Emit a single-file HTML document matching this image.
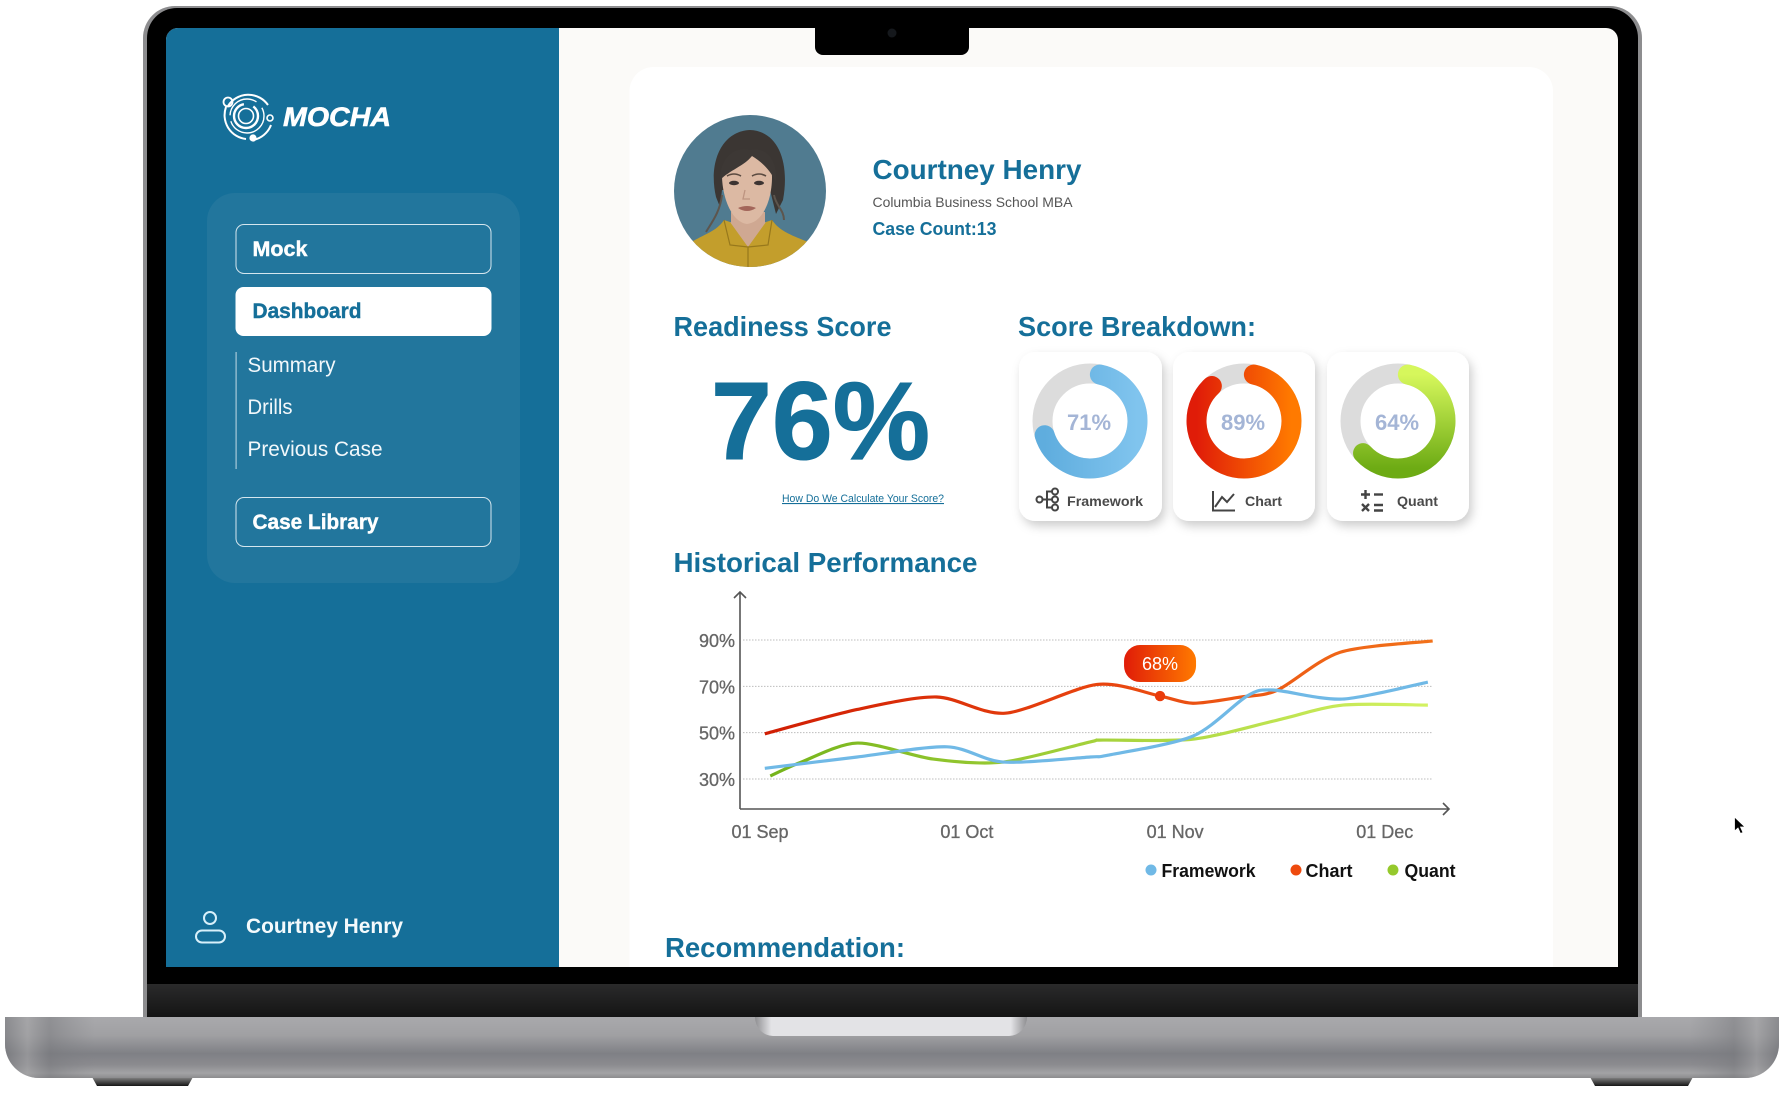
<!DOCTYPE html>
<html lang="en">
<head>
<meta charset="utf-8">
<title>Mocha Dashboard</title>
<style>
html,body{margin:0;padding:0;background:#fff;width:1785px;height:1099px;overflow:hidden}
svg{display:block;font-family:"Liberation Sans",sans-serif}
</style>
</head>
<body>
<svg id="stage" xmlns="http://www.w3.org/2000/svg" width="1785" height="1099" viewBox="0 0 1785 1099">
<defs>
  <linearGradient id="baseV" x1="0" y1="0" x2="0" y2="1">
    <stop offset="0" stop-color="#a9a9ac"/><stop offset=".3" stop-color="#a0a0a3"/><stop offset=".6" stop-color="#7f8085"/><stop offset=".78" stop-color="#8b8b8f"/><stop offset=".92" stop-color="#a3a3a5"/><stop offset="1" stop-color="#8c8c8e"/>
  </linearGradient>
  <linearGradient id="baseEndL" x1="0" y1="0" x2="1" y2="0">
    <stop offset="0" stop-color="#77787c" stop-opacity=".6"/><stop offset=".25" stop-color="#a3a3a5" stop-opacity=".6"/><stop offset=".5" stop-color="#77787c" stop-opacity=".5"/><stop offset="1" stop-color="#808185" stop-opacity="0"/>
  </linearGradient>
  <linearGradient id="baseEndR" x1="1" y1="0" x2="0" y2="0">
    <stop offset="0" stop-color="#77787c" stop-opacity=".6"/><stop offset=".25" stop-color="#a3a3a5" stop-opacity=".6"/><stop offset=".5" stop-color="#77787c" stop-opacity=".5"/><stop offset="1" stop-color="#808185" stop-opacity="0"/>
  </linearGradient>
  <linearGradient id="chin" x1="0" y1="0" x2="0" y2="1">
    <stop offset="0" stop-color="#2a2a2b"/><stop offset="1" stop-color="#141414"/>
  </linearGradient>
  <linearGradient id="foot" x1="0" y1="0" x2="0" y2="1">
    <stop offset="0" stop-color="#8a8a8a"/><stop offset=".45" stop-color="#555"/><stop offset="1" stop-color="#161616"/>
  </linearGradient>
  <linearGradient id="trackpadGrad" x1="0" y1="0" x2="1" y2="0">
    <stop offset="0" stop-color="#8f8f92"/><stop offset=".06" stop-color="#e3e3e6"/><stop offset=".94" stop-color="#e3e3e6"/><stop offset="1" stop-color="#8f8f92"/>
  </linearGradient>
  <linearGradient id="gradFramework" x1="0" y1="0" x2="1" y2="0">
    <stop offset="0" stop-color="#5fadde"/><stop offset="1" stop-color="#80c4ee"/>
  </linearGradient>
  <linearGradient id="gradChart" x1="0" y1="0" x2="1" y2="0">
    <stop offset="0" stop-color="#e01c08"/><stop offset="1" stop-color="#ff7a00"/>
  </linearGradient>
  <linearGradient id="gradQuant" x1="0" y1="0" x2="0" y2="1">
    <stop offset="0" stop-color="#d6f75c"/><stop offset="1" stop-color="#6dab14"/>
  </linearGradient>
  <linearGradient id="lineChart" gradientUnits="userSpaceOnUse" x1="765" y1="0" x2="1433" y2="0">
    <stop offset="0" stop-color="#d01e04"/><stop offset=".5" stop-color="#e8440f"/><stop offset="1" stop-color="#f2721a"/>
  </linearGradient>
  <linearGradient id="lineQuant" gradientUnits="userSpaceOnUse" x1="765" y1="0" x2="1433" y2="0">
    <stop offset="0" stop-color="#74b31a"/><stop offset=".5" stop-color="#a5d23c"/><stop offset="1" stop-color="#d4f262"/>
  </linearGradient>
  <filter id="cardShadow" x="-20%" y="-20%" width="140%" height="140%">
    <feDropShadow dx="3" dy="5" stdDeviation="5" flood-color="#000" flood-opacity=".2"/>
  </filter>
  <clipPath id="screenClip"><path d="M166 967V40a12 12 0 0 1 12-12H1606a12 12 0 0 1 12 12V967z"/></clipPath>
  <clipPath id="avatarClip"><circle cx="750" cy="191" r="76"/></clipPath>
</defs>

<!-- Laptop hardware -->
<g>
  <path d="M92 1077H193L188 1086H97z" fill="url(#foot)"/>
  <path d="M1590 1077H1693L1688 1086H1595z" fill="url(#foot)"/>
  <path d="M143 1018V38a32 32 0 0 1 32-32H1610a32 32 0 0 1 32 32V1018z" fill="#8d8d8f"/>
  <path d="M147 1018V38a30 30 0 0 1 30-30H1608a30 30 0 0 1 30 30V1018z" fill="#000"/>
  <rect x="147" y="984" width="1491" height="33" fill="url(#chin)"/>
  <path d="M5 1017H1779V1044a34 34 0 0 1-34 34H39a34 34 0 0 1-34-34z" fill="url(#baseV)"/>
  <path d="M5 1017H95V1078H39a34 34 0 0 1-34-34z" fill="url(#baseEndL)"/>
  <path d="M1689 1017H1779V1044a34 34 0 0 1-34 34H1689z" fill="url(#baseEndR)"/>
  <path d="M755 1017H1027a18 19 0 0 1-18 19H773a18 19 0 0 1-18-19z" fill="url(#trackpadGrad)"/>
</g>

<!-- Screen -->
<g clip-path="url(#screenClip)">
  <rect x="166" y="28" width="1452" height="939" fill="#fbfaf8"/>
  <rect x="166" y="28" width="393" height="939" fill="#156f99"/>
  <rect x="629.5" y="67" width="923.5" height="960" rx="24" fill="#fff"/>

  <!-- Logo -->
  <g fill="none" stroke="#fff">
    <path stroke-width="2" d="M228 106A24 24 0 0 1 268 105M271 125A24 24 0 0 1 253 140M246 139A24 24 0 0 1 226 107"/>
    <circle cx="247" cy="116" r="17" stroke-width="1.4" stroke-dasharray="48 6 36 8"/>
    <circle cx="246" cy="116" r="12" stroke-width="2.4" stroke-dasharray="54 10"/>
    <circle cx="246" cy="116" r="7.5" stroke-width="1.6"/>
    <circle cx="228" cy="102" r="4.5" stroke-width="1.8"/>
    <circle cx="270" cy="118" r="3" stroke-width="1.6"/>
    <circle cx="253" cy="138" r="3.6" fill="#fff" stroke="none"/>
  </g>
  <text x="283" y="126" font-size="27" font-weight="700" font-style="italic" fill="#fff" stroke="#fff" stroke-width=".6" textLength="108" lengthAdjust="spacingAndGlyphs">MOCHA</text>

  <!-- Sidebar nav -->
  <rect x="207" y="193" width="313" height="390" rx="28" fill="#22769d"/>
  <rect x="236" y="224.5" width="255" height="49" rx="8" fill="none" stroke="#d5e6ee" stroke-width="1"/>
  <text x="252.5" y="256" font-size="21" font-weight="700" fill="#fff" stroke="#fff" stroke-width=".4" textLength="55" lengthAdjust="spacingAndGlyphs">Mock</text>
  <rect x="235.5" y="287" width="256" height="49" rx="8" fill="#fff"/>
  <text x="252.5" y="318" font-size="21" font-weight="700" fill="#156f99" stroke="#156f99" stroke-width=".4" textLength="109" lengthAdjust="spacingAndGlyphs">Dashboard</text>
  <rect x="235.5" y="352" width="1.2" height="117" fill="#a8c9d9"/>
  <text x="247.5" y="372" font-size="21" fill="#f2f8fb" textLength="88" lengthAdjust="spacingAndGlyphs">Summary</text>
  <text x="247.5" y="414" font-size="21" fill="#f2f8fb" textLength="45" lengthAdjust="spacingAndGlyphs">Drills</text>
  <text x="247.5" y="456" font-size="21" fill="#f2f8fb" textLength="135" lengthAdjust="spacingAndGlyphs">Previous Case</text>
  <rect x="236" y="497.5" width="255" height="49" rx="8" fill="none" stroke="#d5e6ee" stroke-width="1"/>
  <text x="252.5" y="529" font-size="21" font-weight="700" fill="#fff" stroke="#fff" stroke-width=".4" textLength="126" lengthAdjust="spacingAndGlyphs">Case Library</text>

  <!-- User footer -->
  <g fill="none" stroke="#d8f0fa" stroke-width="2">
    <circle cx="210" cy="918" r="6"/>
    <rect x="196" y="930.5" width="29" height="12" rx="6"/>
  </g>
  <text x="246" y="933" font-size="21" font-weight="700" fill="#f4fafc" textLength="157" lengthAdjust="spacingAndGlyphs">Courtney Henry</text>

  <!-- Avatar -->
  <g clip-path="url(#avatarClip)">
    <rect x="670" y="110" width="160" height="160" fill="#507b90"/>
    <path d="M716 197C708 162 722 131 750 130C778 131 790 162 783 200L776 214L770 190H722L720 207z" fill="#3b3633"/>
    <path d="M722 195C720 212 712 222 706 232M774 195C776 206 784 210 784 220" fill="none" stroke="#5d554d" stroke-width="2"/>
    <path d="M731 212H765V222L772 226L748 250L724 226L731 222z" fill="#cfa892"/>
    <path d="M690 243C704 234 716 232 724 220L730 222L748 247L766 222L772 220C780 232 794 236 808 242L815 270H685z" fill="#c39e2c"/>
    <path d="M724 220L730 245L748 247M772 220L768 245L748 247M748 247V270" fill="none" stroke="#97781c" stroke-width="1.2"/>
    <path d="M722 175C722 160 732 153 748 153C764 153 772 162 772 177C772 198 764 222 747 224C731 222 722 196 722 175z" fill="#dcb9a3"/>
    <path d="M720 180C720 156 736 146 750 150C764 146 778 158 776 182C770 170 762 162 752 156C744 166 730 170 720 180z" fill="#3d3835"/>
    <ellipse cx="734" cy="183" rx="5" ry="2.2" fill="#3d3432"/>
    <ellipse cx="759" cy="183" rx="5" ry="2.2" fill="#3d3432"/>
    <path d="M727 176Q734 172 741 176" fill="none" stroke="#5a4a40" stroke-width="1.6"/>
    <path d="M752 176Q759 172 766 176" fill="none" stroke="#5a4a40" stroke-width="1.6"/>
    <path d="M738 208Q747 204 756 208Q747 214 738 208z" fill="#a3665a"/>
    <path d="M745 190L743 199H750" fill="none" stroke="#bd9480" stroke-width="1.3"/>
  </g>

  <!-- Profile text -->
  <text x="872.5" y="179" font-size="28" font-weight="700" fill="#156f99" textLength="209" lengthAdjust="spacingAndGlyphs">Courtney Henry</text>
  <text x="872.5" y="207" font-size="14" fill="#555" textLength="200" lengthAdjust="spacingAndGlyphs">Columbia Business School MBA</text>
  <text x="872.5" y="235" font-size="18" font-weight="700" fill="#156f99" textLength="124" lengthAdjust="spacingAndGlyphs">Case Count:13</text>

  <!-- Readiness -->
  <text x="673.5" y="336" font-size="28" font-weight="700" fill="#156f99" textLength="218" lengthAdjust="spacingAndGlyphs">Readiness Score</text>
  <text x="711" y="459" font-size="110" font-weight="700" fill="#156f99" stroke="#156f99" stroke-width="1" textLength="219" lengthAdjust="spacingAndGlyphs">76%</text>
  <text x="782" y="502" font-size="11" fill="#156f99" text-decoration="underline" textLength="162" lengthAdjust="spacingAndGlyphs">How Do We Calculate Your Score?</text>

  <!-- Breakdown -->
  <text x="1018" y="336" font-size="28" font-weight="700" fill="#156f99" textLength="238" lengthAdjust="spacingAndGlyphs">Score Breakdown:</text>
  <rect x="1019" y="352" width="143" height="169" rx="16" fill="#fff" filter="url(#cardShadow)"/>
  <rect x="1173" y="352" width="142" height="169" rx="16" fill="#fff" filter="url(#cardShadow)"/>
  <rect x="1327" y="352" width="142" height="169" rx="16" fill="#fff" filter="url(#cardShadow)"/>
  <g id="donuts"></g>

  <g fill="none" stroke="#444" stroke-width="2">
    <circle cx="1039.5" cy="499.5" r="3"/>
    <circle cx="1055" cy="491.5" r="3"/>
    <circle cx="1055" cy="499.5" r="3"/>
    <circle cx="1055" cy="507.5" r="3"/>
    <path d="M1043 499.5H1052M1052 491.5H1047V507.5H1052"/>
  </g>
  <text x="1067" y="506" font-size="14" font-weight="700" fill="#4a4a4a" textLength="76" lengthAdjust="spacingAndGlyphs">Framework</text>
  <g fill="none" stroke="#444" stroke-width="2">
    <path d="M1213 491V510.5H1235"/>
    <path d="M1215 507L1222 497L1227 502L1234 494"/>
  </g>
  <text x="1245" y="506" font-size="14" font-weight="700" fill="#4a4a4a" textLength="37" lengthAdjust="spacingAndGlyphs">Chart</text>
  <g fill="none" stroke="#444" stroke-width="2.4">
    <path d="M1361 494.5H1370M1365.5 490V499"/>
    <path d="M1374 494.5H1383"/>
    <path d="M1362 504L1369 511M1369 504L1362 511"/>
    <path d="M1374 505H1383M1374 510.5H1383"/>
  </g>
  <text x="1397" y="506" font-size="14" font-weight="700" fill="#4a4a4a" textLength="41" lengthAdjust="spacingAndGlyphs">Quant</text>

  <!-- Historical -->
  <text x="673.5" y="572" font-size="28" font-weight="700" fill="#156f99" textLength="304" lengthAdjust="spacingAndGlyphs">Historical Performance</text>
  <g id="chart"></g>

  <text x="665" y="957" font-size="28" font-weight="700" fill="#156f99" textLength="240" lengthAdjust="spacingAndGlyphs">Recommendation:</text>

  <!-- Notch -->
  <path d="M815 20H969V47a8 8 0 0 1-8 8H823a8 8 0 0 1-8-8z" fill="#000"/>
  <circle cx="892" cy="33" r="4.5" fill="#15181c"/>
</g>

<path d="M1734.5 817L1734.5 831L1738 828L1740.5 833.5L1743 832.5L1740.5 827L1745 827z" fill="#000" stroke="#fff" stroke-width=".8"/>

<script>
// Donut data
const donutNames = ['framework', 'chart', 'quant'];
const donutValues = [71, 89, 64];

// Line chart data
const yTickValues = [30, 50, 70, 90];
const yTickLabels = ['30%', '50%', '70%', '90%'];
const xTickDays = [0, 30.2, 60.6, 91.2];
const xTickLabels = ['01 Sep', '01 Oct', '01 Nov', '01 Dec'];
const frameworkDays = [0.7, 14.2, 27.3, 35.5, 48.2, 50.8, 63.2, 71.1, 74.9, 85, 97.5];
const frameworkValues = [34.6, 39.5, 43.9, 37.3, 39.5, 40.3, 48.5, 65.8, 68.4, 64.5, 71.8];
const chartDays = [0.7, 14.2, 25.8, 35.8, 49.2, 58.4, 63.2, 70, 75.5, 84.7, 98.2];
const chartValues = [49.5, 60, 65.4, 58.4, 70.8, 65.8, 62.7, 65.3, 68.3, 84.7, 89.6];
const quantDays = [1.5, 5.8, 14.2, 25.3, 35.5, 48.2, 50.1, 63.2, 75.5, 85.1, 97.5];
const quantValues = [31.3, 37, 45.5, 38.6, 37.3, 46, 46.8, 47.2, 55.4, 61.9, 61.9];
const highlightDay = [58.4];
const highlightValue = [65.8];
const highlightLabel = ['68%'];
const legendLabels = ['Framework', 'Chart', 'Quant'];

const NS = 'http://www.w3.org/2000/svg';
function make(tag, attrs, parent) {
  const el = document.createElementNS(NS, tag);
  for (const k in attrs) el.setAttribute(k, attrs[k]);
  parent.appendChild(el);
  return el;
}

// ---------- donuts ----------
const donutRoot = document.getElementById('donuts');
const donutCenters = { framework: 1090, chart: 1244, quant: 1398 };
const donutGrads = { framework: 'url(#gradFramework)', chart: 'url(#gradChart)', quant: 'url(#gradQuant)' };
const donutCy = 421;
const donutR = 47.5;
function polar(cx, deg) {
  const a = (deg - 90) * Math.PI / 180;
  return [cx + donutR * Math.cos(a), donutCy + donutR * Math.sin(a)];
}
donutNames.forEach(function (name, i) {
  const cx = donutCenters[name];
  const track = make('circle', { cx: cx, cy: donutCy, r: donutR, fill: 'none', stroke: '#dcdcdc', 'stroke-width': 20 }, donutRoot);
  
  
  const startDeg = 12;
  const endDeg = donutValues[i] * 3.6 - 3;
  const p0 = polar(cx, startDeg);
  const p1 = polar(cx, endDeg);
  const large = endDeg - startDeg > 180 ? 1 : 0;
  const arc = make('path', {
    d: 'M' + p0[0] + ' ' + p0[1] + 'A' + donutR + ' ' + donutR + ' 0 ' + large + ' 1 ' + p1[0] + ' ' + p1[1],
    fill: 'none', stroke: donutGrads[name], 'stroke-width': 20, 'stroke-linecap': 'round'
  }, donutRoot);
  
  
  const label = make('text', { x: cx - 1, y: 430, 'text-anchor': 'middle', 'font-size': 22, 'font-weight': 700, fill: '#a4b5d6' }, donutRoot);
  
  
  label.textContent = donutValues[i] + '%';
});

// ---------- line chart ----------
const chartRoot = document.getElementById('chart');
const axisLeft = 740;
const axisBottom = 809;
const axisRight = 1449;
const axisTop = 592;
function xScale(day) { return 760 + day * 6.85; }
function yScale(v) { return 779 - (v - 30) * 2.317; }

yTickValues.forEach(function (v, i) {
  const y = yScale(v);
  const grid = make('line', { x1: 743, x2: 1433, y1: y, y2: y, stroke: '#bdbdbd', 'stroke-width': 1, 'stroke-dasharray': '1.5 1.5' }, chartRoot);
  
  
  const t = make('text', { x: 735, y: y + 7, 'text-anchor': 'end', 'font-size': 18, fill: '#666', stroke: '#666', 'stroke-width': 0.3 }, chartRoot);
  
  
  t.textContent = yTickLabels[i];
});
xTickDays.forEach(function (d, i) {
  const t = make('text', { x: xScale(d), y: 838, 'text-anchor': 'middle', 'font-size': 18, fill: '#666', stroke: '#666', 'stroke-width': 0.3 }, chartRoot);
  
  
  t.textContent = xTickLabels[i];
});
const yAxis = make('path', { d: 'M' + axisLeft + ' ' + axisBottom + 'V' + axisTop + 'M' + (axisLeft - 6) + ' ' + (axisTop + 6) + 'L' + axisLeft + ' ' + axisTop + 'L' + (axisLeft + 6) + ' ' + (axisTop + 6), fill: 'none', stroke: '#555', 'stroke-width': 1.6 }, chartRoot);


const xAxis = make('path', { d: 'M' + axisLeft + ' ' + axisBottom + 'H' + axisRight + 'M' + (axisRight - 6) + ' ' + (axisBottom - 6) + 'L' + axisRight + ' ' + axisBottom + 'L' + (axisRight - 6) + ' ' + (axisBottom + 6), fill: 'none', stroke: '#555', 'stroke-width': 1.6 }, chartRoot);



function smoothPath(days, values) {
  const pts = days.map(function (d, i) { return [xScale(d), yScale(values[i])]; });
  let d = 'M' + pts[0][0] + ' ' + pts[0][1];
  for (let i = 0; i < pts.length - 1; i++) {
    const p0 = pts[Math.max(i - 1, 0)];
    const p1 = pts[i];
    const p2 = pts[i + 1];
    const p3 = pts[Math.min(i + 2, pts.length - 1)];
    const k = 0.14;
    d += 'C' + (p1[0] + (p2[0] - p0[0]) * k) + ' ' + (p1[1] + (p2[1] - p0[1]) * k) + ' ' +
      (p2[0] - (p3[0] - p1[0]) * k) + ' ' + (p2[1] - (p3[1] - p1[1]) * k) + ' ' + p2[0] + ' ' + p2[1];
  }
  return d;
}
const frameworkLine = make('path', { d: smoothPath(frameworkDays, frameworkValues), fill: 'none', stroke: '#70b9e6', 'stroke-width': 3.2 }, chartRoot);


const chartLine = make('path', { d: smoothPath(chartDays, chartValues), fill: 'none', stroke: 'url(#lineChart)', 'stroke-width': 3.2 }, chartRoot);


const quantLine = make('path', { d: smoothPath(quantDays, quantValues), fill: 'none', stroke: 'url(#lineQuant)', 'stroke-width': 3.2 }, chartRoot);


chartRoot.insertBefore(frameworkLine, null);

// highlighted point and tooltip
const hx = xScale(highlightDay[0]);
const hy = yScale(highlightValue[0]);
const marker = make('circle', { cx: hx, cy: hy, r: 5.2, fill: '#ea3c0c' }, chartRoot);


const pill = make('rect', { x: hx - 36, y: hy - 51, width: 72, height: 37, rx: 16, fill: 'url(#gradChart)' }, chartRoot);


const pillText = make('text', { x: hx, y: hy - 26, 'text-anchor': 'middle', 'font-size': 18, fill: '#fff' }, chartRoot);


pillText.textContent = highlightLabel[0];

// legend
const legendDotX = [1151, 1296, 1393];
const legendTextX = [1161.5, 1305.5, 1404.5];
const legendTextW = [94, 47, 51];
const legendFill = ['#70b9e6', '#ee4a0e', '#95c92c'];
legendLabels.forEach(function (label, i) {
  const dot = make('circle', { cx: legendDotX[i], cy: 870, r: 5.5, fill: legendFill[i] }, chartRoot);
  
  
  const t = make('text', { x: legendTextX[i], y: 877, 'font-size': 18, 'font-weight': 700, fill: '#111', textLength: legendTextW[i], lengthAdjust: 'spacingAndGlyphs' }, chartRoot);
  
  
  t.textContent = label;
});
</script>
</svg>
</body>
</html>
